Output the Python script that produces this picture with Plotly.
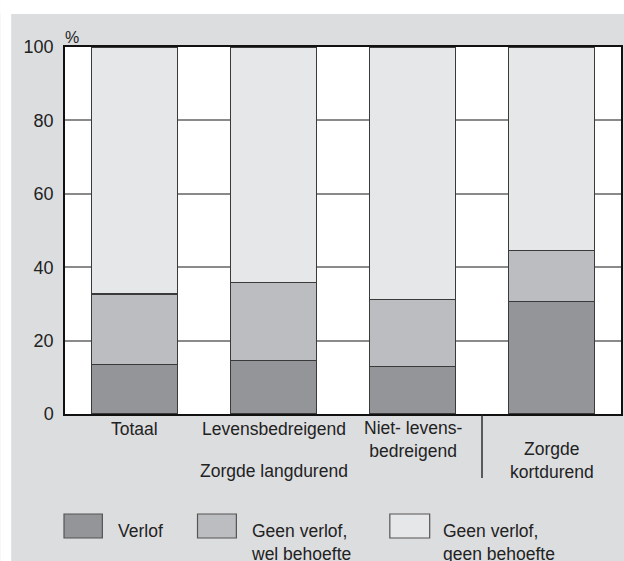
import plotly.graph_objects as go

categories = ["Totaal", "Levensbedreigend", "Niet- levens-<br>bedreigend", "Zorgde<br>kortdurend"]
verlof = [13.5, 14.5, 12.9, 30.6]
wel_behoefte = [19.2, 21.4, 18.3, 13.9]
geen_behoefte = [67.3, 64.1, 68.8, 55.5]
series_names = ["Verlof", "Geen verlof,<br>wel behoefte", "Geen verlof,<br>geen behoefte"]
series_colors = ["#939598", "#bcbdc0", "#e6e7e8"]
group_label = "Zorgde langdurend"
y_ticks = [0, 20, 40, 60, 80, 100]

W, H = 624, 561
L, R, T, B = 65, 623, 47, 414
pw, ph = R - L, B - T

def px(x):
    return (x - L) / pw

def py(y):
    return (B - y) / ph

FONT = "Liberation Sans, Arial, sans-serif"
FS = 17.5
xs = list(range(len(categories)))

fig = go.Figure()
for vals, name, col in zip([verlof, wel_behoefte, geen_behoefte], series_names, series_colors):
    fig.add_trace(go.Bar(x=xs, y=vals, name=name, width=0.62,
                         marker=dict(color=col, line=dict(color="#3a3a3a", width=1.4)),
                         showlegend=False, hoverinfo="skip"))

shapes = []
# white strips outside the grey panel
shapes.append(dict(type="rect", xref="paper", yref="paper", x0=px(0), x1=px(11), y0=py(H + 5), y1=py(-5),
                   fillcolor="white", line=dict(width=0), layer="below"))
shapes.append(dict(type="rect", xref="paper", yref="paper", x0=px(0), x1=px(W + 5), y0=py(14), y1=py(-5),
                   fillcolor="white", line=dict(width=0), layer="below"))
# divider between category groups
shapes.append(dict(type="line", xref="x", yref="paper", x0=2.5, x1=2.5, y0=0, y1=py(478),
                   line=dict(color="#222", width=1.4)))

annotations = []
label_y = [429, 429, 439.5, 460.5]
for i, (c, ly) in enumerate(zip(categories, label_y)):
    annotations.append(dict(x=i, y=py(ly), xref="x", yref="paper", text=c, showarrow=False,
                            xanchor="center", yanchor="middle", font=dict(size=FS, color="#222", family=FONT)))
annotations.append(dict(x=1, y=py(471), xref="x", yref="paper", text=group_label, showarrow=False,
                        xanchor="center", yanchor="middle", font=dict(size=FS, color="#222", family=FONT)))
annotations.append(dict(x=px(63), y=py(37), xref="paper", yref="paper", text="%", showarrow=False,
                        xanchor="left", yanchor="middle", font=dict(size=16, color="#222", family=FONT)))

# legend
box_x = [(64, 102.5), (198, 237), (391, 431)]
text_x = [116, 250, 442]
text_y = [531, 542, 542]
for (x0, x1), tx, ty, name, col in zip(box_x, text_x, text_y, series_names, series_colors):
    shapes.append(dict(type="rect", xref="paper", yref="paper", x0=px(x0), x1=px(x1), y0=py(538), y1=py(514),
                       fillcolor=col, line=dict(color="#555", width=1.2)))
    annotations.append(dict(x=px(tx), y=py(ty), xref="paper", yref="paper", text=name, showarrow=False,
                            xanchor="left", yanchor="middle", align="left",
                            font=dict(size=FS, color="#222", family=FONT)))

fig.update_layout(
    width=W, height=H,
    margin=dict(l=L, r=W - R, t=T, b=H - B, pad=0),
    paper_bgcolor="#dcdddf", plot_bgcolor="white",
    barmode="stack", bargap=0.38,
    shapes=shapes, annotations=annotations,
    font=dict(family=FONT, size=FS, color="#222"),
    xaxis=dict(range=[-0.5, 3.5], showticklabels=False, showgrid=False, zeroline=False,
               showline=True, mirror=True, linecolor="#111", linewidth=1.5, ticks=""),
    yaxis=dict(range=[0, 100], tickvals=y_ticks, showgrid=True, gridcolor="#8a8a8a", gridwidth=1.5,
               zeroline=False, showline=True, mirror=True, linecolor="#111", linewidth=1.5,
               ticks="", ticklabelstandoff=6, tickfont=dict(size=18, color="#222", family=FONT)),
)

fig.write_html("out.html", config={"displayModeBar": False},
               post_script="document.body.style.margin='0';document.body.style.overflow='hidden';")
